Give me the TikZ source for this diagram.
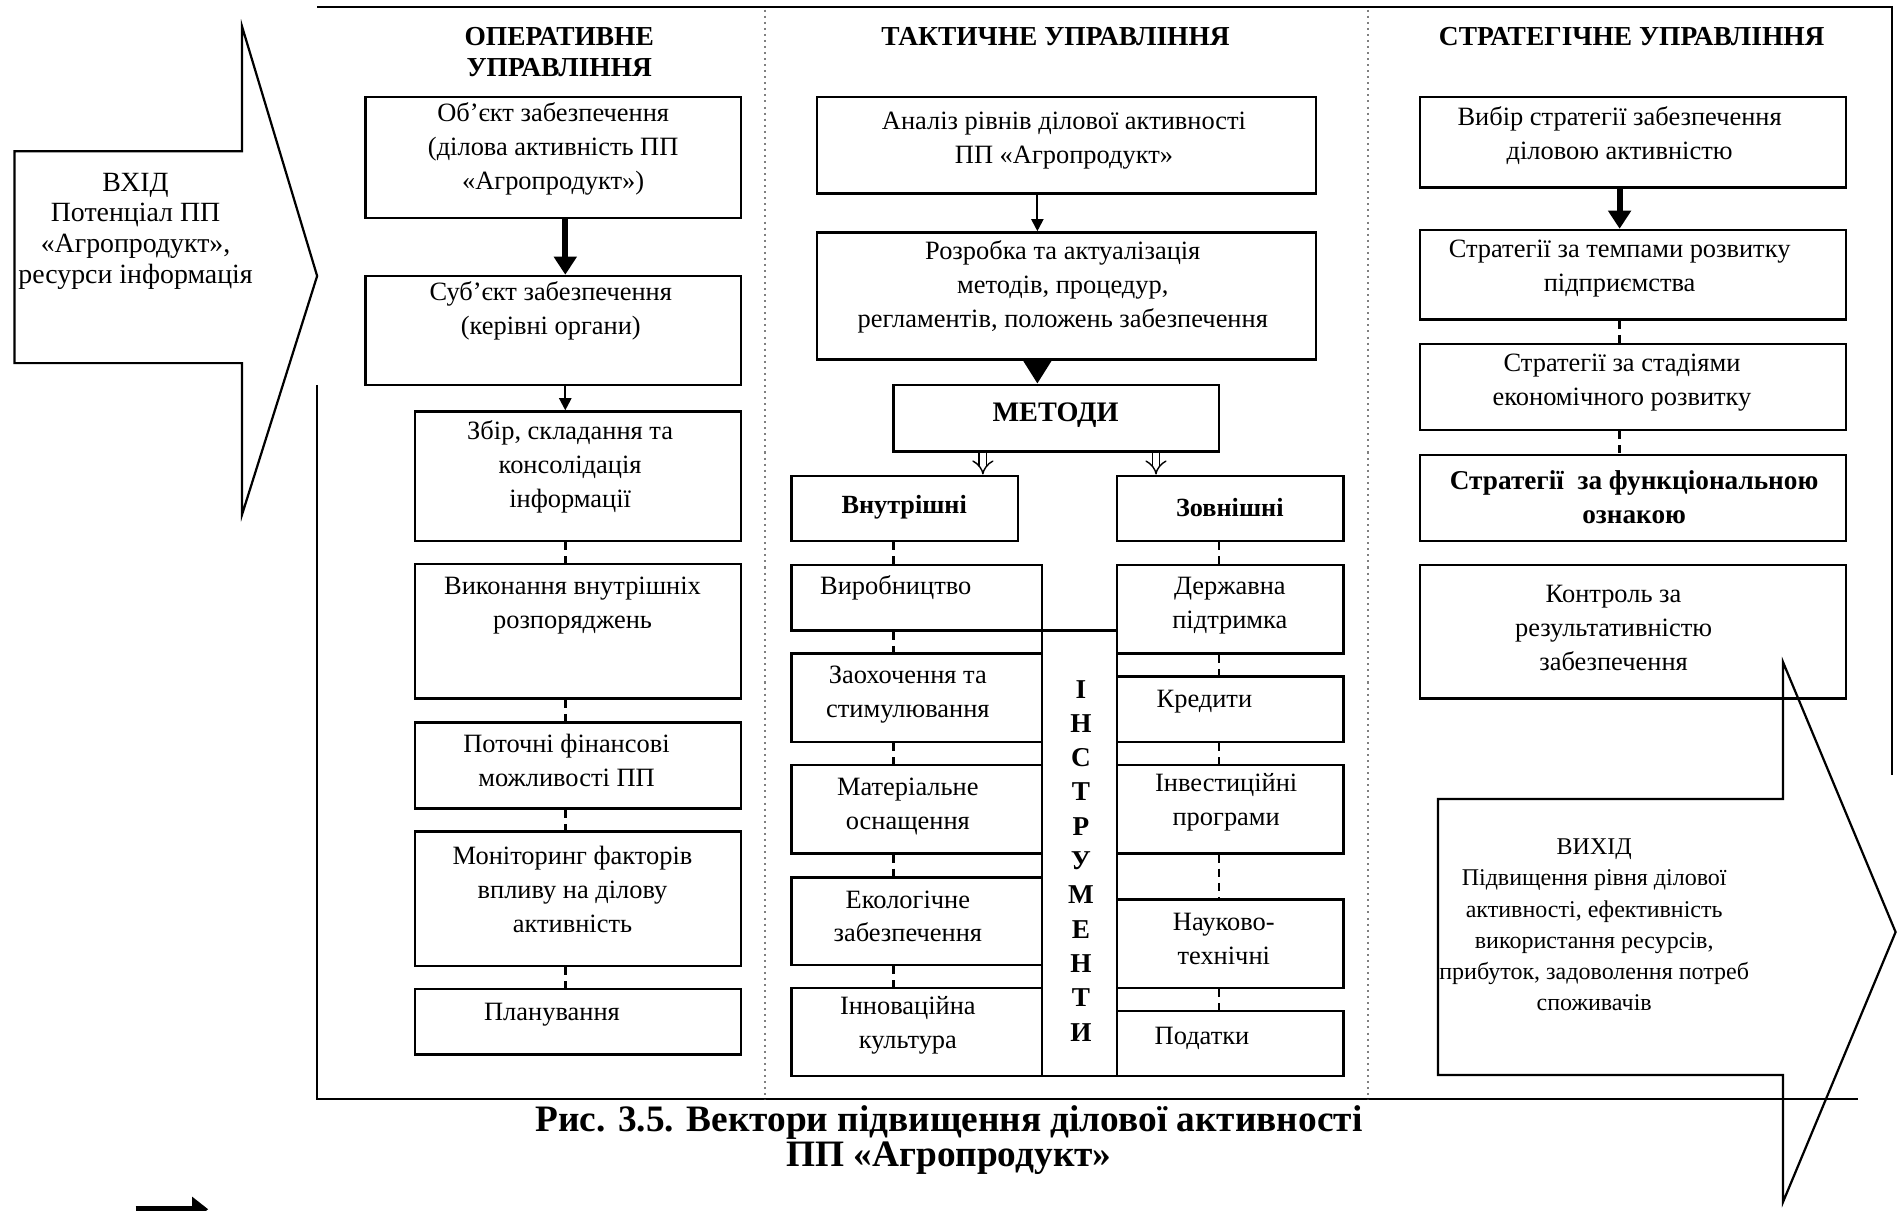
\documentclass[tikz,border=0pt]{standalone}
\usepackage{fontspec}
\setmainfont{Liberation Serif}
\usetikzlibrary{arrows.meta}
\def\u{0.6pt}
\newcommand{\mybox}[5]{\node[box, minimum width={(#4-#2)*\u}, minimum height={(#5-#3)*\u}] (#1) at ({(#2+#4)/2},{(#3+#5)/2}) {};}
\begin{document}
\begin{tikzpicture}[x=0.6pt,y=-0.6pt,
  box/.style={draw, line width=1.2pt, inner sep=0pt, fill=white},
  txt/.style={align=center, inner sep=0pt, font=\fontsize{13.1}{16.8}\selectfont},
  hdr/.style={align=center, inner sep=0pt, font=\bfseries\fontsize{13.6}{15.5}\selectfont},
  bigarrow/.style={line width=3pt, -{Triangle[length=9pt,width=11pt]}},
  bigarrowb/.style={line width=3pt, -{Triangle[length=12pt,width=14pt]}},
  thinarrow/.style={line width=1pt, -{Triangle[length=6pt,width=6pt]}},
  dblarrow/.style={double, double distance=3pt, line width=0.7pt, -{Implies}},
  dconn/.style={line width=1.2pt, dash pattern=on 4pt off 3pt},
  sepline/.style={gray, line width=1pt, dotted},
  framel/.style={line width=1.2pt},
  bigshape/.style={line width=1.1pt, line join=miter}]
\useasboundingbox (0,0) rectangle (1568,1000);

% frame and separators
\draw[framel] (262,6) -- (1563,6) -- (1563,640);
\draw[framel] (262,318) -- (262,908) -- (1535,908);
\draw[sepline] (632,8) -- (632,908);
\draw[sepline] (1130,8) -- (1130,908);

% input arrow
\draw[bigshape] (12,125) -- (200,125) -- (200,22) -- (262,228) -- (200,425) -- (200,300) -- (12,300) -- cycle;
\node[txt, font=\fontsize{13.8}{15.3}\selectfont] (vhid) at (112,191) {ВХІД\\Потенціал ПП\\«Агропродукт»,\\ресурси інформація};

% headers
\node[hdr] (h1) at (462,43) {ОПЕРАТИВНЕ\\УПРАВЛІННЯ};
\node[hdr] (h2) at (872,30) {ТАКТИЧНЕ УПРАВЛІННЯ};
\node[hdr] (h3) at (1348,30) {СТРАТЕГІЧНЕ УПРАВЛІННЯ};

% column x positions
\coordinate (cL) at (467,0);
\coordinate (cM) at (857,0);
\coordinate (cD1) at (812,0);
\coordinate (cD2) at (955,0);
\coordinate (cML) at (738,0);
\coordinate (cMR) at (1007,0);
\coordinate (cR) at (1338,0);

% ---------- operative column
\mybox{obj}{302}{80}{612}{180}
\mybox{subj}{302}{228}{612}{318}
\mybox{zbir}{343}{340}{612}{447}
\mybox{vykon}{343}{466}{612}{577}
\mybox{potoch}{343}{597}{612}{668}
\mybox{monit}{343}{687}{612}{798}
\mybox{plan}{343}{817}{612}{871}
\node[txt] (obj-t) at (457,123) {Об’єкт забезпечення\\(ділова активність ПП\\«Агропродукт»)};
\node[txt] (subj-t) at (455,257) {Суб’єкт забезпечення\\(керівні органи)};
\node[txt] (zbir-t) at (471,386) {Збір, складання та\\консолідація\\інформації};
\node[txt] (vykon-t) at (473,500) {Виконання внутрішніх\\розпоряджень};
\node[txt] (potoch-t) at (468,628) {Поточні фінансові\\можливості ПП};
\node[txt] (monit-t) at (473,735) {Моніторинг факторів\\впливу на ділову\\активність};
\node[txt] (plan-t) at (456,838) {Планування};

\draw[bigarrow] (obj.south -| cL) -- (subj.north -| cL);
\draw[thinarrow] (subj.south -| cL) -- (zbir.north -| cL);
\draw[dconn] (zbir.south -| cL) -- (vykon.north -| cL);
\draw[dconn] (vykon.south -| cL) -- (potoch.north -| cL);
\draw[dconn] (potoch.south -| cL) -- (monit.north -| cL);
\draw[dconn] (monit.south -| cL) -- (plan.north -| cL);

% ---------- tactical column
\mybox{analiz}{675}{80}{1087}{160}
\mybox{rozr}{675}{192}{1087}{297}
\mybox{metody}{738}{318}{1007}{373}
\mybox{vnutr}{654}{393}{841}{447}
\mybox{zovn}{923}{393}{1110}{447}
\mybox{vyrob}{654}{467}{861}{521}
\mybox{zaoh}{654}{540}{861}{613}
\mybox{mater}{654}{632}{861}{705}
\mybox{ekol}{654}{725}{861}{797}
\mybox{innov}{654}{816}{861}{889}
\mybox{derzh}{923}{467}{1110}{540}
\mybox{kred}{923}{559}{1110}{613}
\mybox{invest}{923}{632}{1110}{705}
\mybox{nauk}{923}{743}{1110}{816}
\mybox{podat}{923}{835}{1110}{889}
\mybox{instr}{861}{521}{923}{889}

\node[txt] (analiz-t) at (879,116) {Аналіз рівнів ділової активності\\ПП «Агропродукт»};
\node[txt] (rozr-t) at (878,237) {Розробка та актуалізація\\методів, процедур,\\регламентів, положень забезпечення};
\node[hdr, font=\bfseries\fontsize{14}{16}\selectfont] (metody-t) at (872,343) {МЕТОДИ};
\node[hdr, font=\bfseries\fontsize{13}{15}\selectfont] (vnutr-t) at (747,419) {Внутрішні};
\node[hdr, font=\bfseries\fontsize{13}{15}\selectfont] (zovn-t) at (1016,419) {Зовнішні};
\node[txt] (vyrob-t) at (740,486) {Виробництво};
\node[txt] (zaoh-t) at (750,574) {Заохочення та\\стимулювання};
\node[txt] (mater-t) at (750,666) {Матеріальне\\оснащення};
\node[txt] (ekol-t) at (750,757) {Екологічне\\забезпечення};
\node[txt] (innov-t) at (750,847) {Інноваційна\\культура};
\node[txt] (derzh-t) at (1016,500) {Державна\\підтримка};
\node[txt] (kred-t) at (995,580) {Кредити};
\node[txt] (invest-t) at (1013,663) {Інвестиційні\\програми};
\node[txt] (nauk-t) at (1011,776) {Науково-\\технічні};
\node[txt] (podat-t) at (993,858) {Податки};
\node[hdr, font=\bfseries\fontsize{13.5}{17}\selectfont] (instr-t) at (893,711) {І\\Н\\С\\Т\\Р\\У\\М\\Е\\Н\\Т\\И};

\draw[thinarrow] (analiz.south -| cM) -- (rozr.north -| cM);
\draw[bigarrowb] (rozr.south -| cM) -- (metody.north -| cM);
\draw[dblarrow] (metody.south -| cD1) -- (vnutr.north -| cD1);
\draw[dblarrow] (metody.south -| cD2) -- (zovn.north -| cD2);
\draw[dconn] (vnutr.south -| cML) -- (vyrob.north -| cML);
\draw[dconn] (vyrob.south -| cML) -- (zaoh.north -| cML);
\draw[dconn] (zaoh.south -| cML) -- (mater.north -| cML);
\draw[dconn] (mater.south -| cML) -- (ekol.north -| cML);
\draw[dconn] (ekol.south -| cML) -- (innov.north -| cML);
\draw[dconn] (zovn.south -| cMR) -- (derzh.north -| cMR);
\draw[dconn] (derzh.south -| cMR) -- (kred.north -| cMR);
\draw[dconn] (kred.south -| cMR) -- (invest.north -| cMR);
\draw[dconn] (invest.south -| cMR) -- (nauk.north -| cMR);
\draw[dconn] (nauk.south -| cMR) -- (podat.north -| cMR);

% ---------- strategic column
\mybox{vybir}{1173}{80}{1525}{155}
\mybox{tempy}{1173}{190}{1525}{264}
\mybox{stadii}{1173}{284}{1525}{355}
\mybox{funk}{1173}{376}{1525}{447}
\mybox{kontr}{1173}{467}{1525}{577}
\node[txt] (vybir-t) at (1338,112) {Вибір стратегії забезпечення\\діловою активністю};
\node[txt] (tempy-t) at (1338,222) {Стратегії за темпами розвитку\\підприємства};
\node[txt] (stadii-t) at (1340,316) {Стратегії за стадіями\\економічного розвитку};
\node[txt, font=\bfseries\fontsize{13.5}{16.8}\selectfont] (funk-t) at (1350,411) {Стратегії\ \ за функціональною\\ознакою};
\node[txt] (kontr-t) at (1333,519) {Контроль за\\результативністю\\забезпечення};

\draw[bigarrow] (vybir.south -| cR) -- (tempy.north -| cR);
\draw[dconn] (tempy.south -| cR) -- (stadii.north -| cR);
\draw[dconn] (stadii.south -| cR) -- (funk.north -| cR);

% output arrow
\draw[bigshape] (1188,660) -- (1473,660) -- (1473,547) -- (1566,770) -- (1473,993) -- (1473,888) -- (1188,888) -- cycle;
\node[txt, font=\fontsize{11.9}{15.4}\selectfont] (vyhid) at (1317,764) {ВИХІД\\Підвищення рівня ділової\\активності, ефективність\\використання ресурсів,\\прибуток, задоволення потреб\\споживачів};

% caption
\node[inner sep=0pt, align=center, font=\bfseries\fontsize{18.5}{17.5}\selectfont] (cap) at (784,942) {Рис. 3.5. Вектори підвищення ділової активності\\ПП «Агропродукт»};

% legend arrow (cut off at the bottom)
\draw[line width=3pt, -{Triangle[length=8pt,width=12pt]}] (112,999) -- (172,999);
\end{tikzpicture}
\end{document}
